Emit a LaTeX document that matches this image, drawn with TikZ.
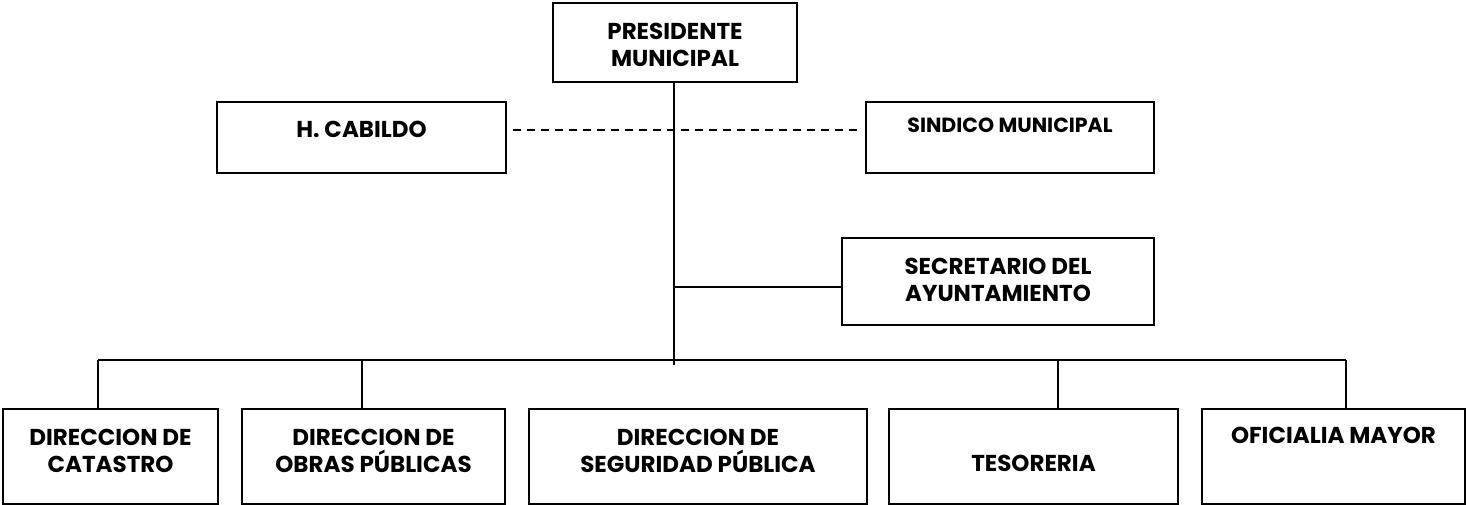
\documentclass[tikz,border=0pt]{standalone}
\usepackage{fontspec}
\setmainfont{Poppins}
\usetikzlibrary{calc}

\begin{document}
\begin{tikzpicture}[
      x=1pt, y=-1pt,
      box/.style={
            draw, line width=2pt, rectangle,
            inner sep=0pt
        },
      txt/.style={
            align=center, text=black,
            font=\fontsize{23}{27}\selectfont\bfseries
        },
      link/.style={line width=2pt},
      lazo/.style={line width=1.6pt, dash pattern=on 8pt off 6pt}
      ]
    \useasboundingbox (0,0) rectangle (1466,505);

    % cabeza y organos colegiados
    \node[box, minimum width=244, minimum height=79] (pres) at (675,42.5) {};
    \node[box, minimum width=289, minimum height=71] (cab) at (361.5,137.5) {};
    \node[box, minimum width=288, minimum height=71] (sind) at (1010,137.5) {};
    \node[box, minimum width=312, minimum height=87] (sec) at (998,281.5) {};

    \node[txt] (pres-t) at (675,45) {PRESIDENTE\\MUNICIPAL};
    \node[txt] (cab-t) at (361.5,129) {H. CABILDO};
    \node[txt, font=\fontsize{20.5}{24}\selectfont\bfseries] (sind-t) at (1010,125) {SINDICO MUNICIPAL};
    \node[txt] (sec-t) at (998,280) {SECRETARIO DEL\\AYUNTAMIENTO};

    % direcciones
    \node[box, minimum width=215, minimum height=95] (cat) at (110.5,456.5) {};
    \node[box, minimum width=263, minimum height=95] (obras) at (373.5,456.5) {};
    \node[box, minimum width=338, minimum height=95] (segu) at (698,456.5) {};
    \node[box, minimum width=289, minimum height=95] (teso) at (1033.5,456.5) {};
    \node[box, minimum width=263, minimum height=95] (ofi) at (1333.5,456.5) {};

    \node[txt] (cat-t) at (110.5,451) {DIRECCION DE\\CATASTRO};
    \node[txt] (obras-t) at (373.5,451) {DIRECCION DE\\OBRAS P\'UBLICAS};
    \node[txt] (segu-t) at (698,451) {DIRECCION DE\\SEGURIDAD P\'UBLICA};
    \node[txt] (teso-t) at (1033.5,463) {TESORERIA};
    \node[txt] (ofi-t) at (1333.5,435) {OFICIALIA MAYOR};

    % bus de direcciones
    \coordinate (d1) at (98,360);
    \coordinate (d2) at (362,360);
    \coordinate (d4) at (1058,360);
    \coordinate (d5) at (1346,360);
    \coordinate (tr) at (674,365);

    \draw[link] (pres.south -| tr) -- (tr);
    \draw[link] (d1) -- (d5);
    \draw[link] ([yshift=-5.5pt]sec.west -| tr) -- ([yshift=-5.5pt]sec.west);
    \draw[lazo] ([xshift=6pt,yshift=7.5pt]cab.east) -- ([xshift=-6pt,yshift=7.5pt]sind.west);

    \foreach \d/\b in {d1/cat, d2/obras, d4/teso, d5/ofi}
        \draw[link] (\d) -- (\d |- \b.north);
  \end{tikzpicture}
\end{document}
